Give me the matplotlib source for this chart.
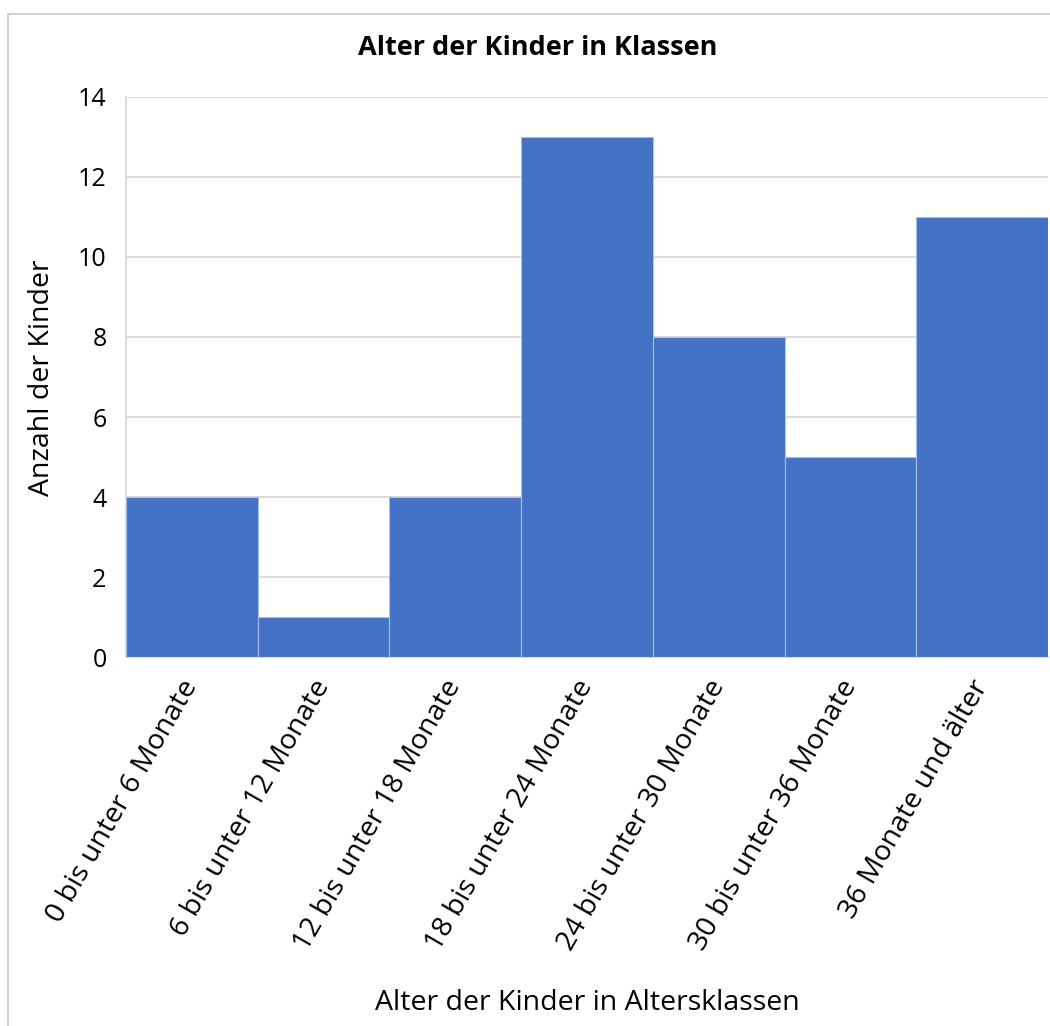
import matplotlib
matplotlib.use("Agg")
import matplotlib.pyplot as plt
from matplotlib.patches import Rectangle

plt.rcParams['font.family'] = ['Open Sans', 'DejaVu Sans']

categories = [
    "0 bis unter 6 Monate",
    "6 bis unter 12 Monate",
    "12 bis unter 18 Monate",
    "18 bis unter 24 Monate",
    "24 bis unter 30 Monate",
    "30 bis unter 36 Monate",
    "36 Monate und älter",
]
counts = [4, 1, 4, 13, 8, 5, 11]
y_ticks = [0, 2, 4, 6, 8, 10, 12, 14]

fig = plt.figure(figsize=(10.5, 10.26), dpi=100)
ax = fig.add_axes([0.12, 0.3596, 0.878, 0.5459])

# outer chart frame
fig.patches.append(Rectangle((8 / 1050, -0.1), 1.2, 1 - 14 / 1026 + 0.1,
                             transform=fig.transFigure, fill=False,
                             edgecolor='#C8C8C8', linewidth=1.2, zorder=0))

x = list(range(len(categories)))
ax.bar(x, counts, width=1.0, color='#4472C4', edgecolor='#A9BFE6',
       linewidth=0.8, zorder=3)

ax.set_xlim(-0.5, len(categories) - 0.5)
ax.set_ylim(0, 14)
ax.set_yticks(y_ticks)
ax.set_yticklabels([str(v) for v in y_ticks], fontsize=18)
ax.yaxis.grid(True, color='#D9D9D9', linewidth=1.3, zorder=0)
ax.set_axisbelow(True)
ax.tick_params(axis='y', length=0, pad=14, colors='black')

ax.set_xticks(x)
ax.set_xticklabels(categories, rotation=60, ha='right', va='center',
                   rotation_mode='anchor', fontsize=20.5)
ax.tick_params(axis='x', length=0, pad=18, colors='black')

for side in ['top', 'right']:
    ax.spines[side].set_visible(False)
for side in ['left', 'bottom']:
    ax.spines[side].set_color('#D9D9D9')
    ax.spines[side].set_linewidth(1.3)

fig.text(0.512, 1 - 48 / 1026, "Alter der Kinder in Klassen", ha='center',
         va='center', fontsize=19.5, fontweight='bold')
fig.text(0.040, 1 - 378 / 1026, "Anzahl der Kinder", rotation=90,
         ha='center', va='center', fontsize=20.5)
fig.text(0.559, 1 - 1003 / 1026, "Alter der Kinder in Altersklassen",
         ha='center', va='center', fontsize=20.5)

fig.savefig("out.png", dpi=100, facecolor='white')
